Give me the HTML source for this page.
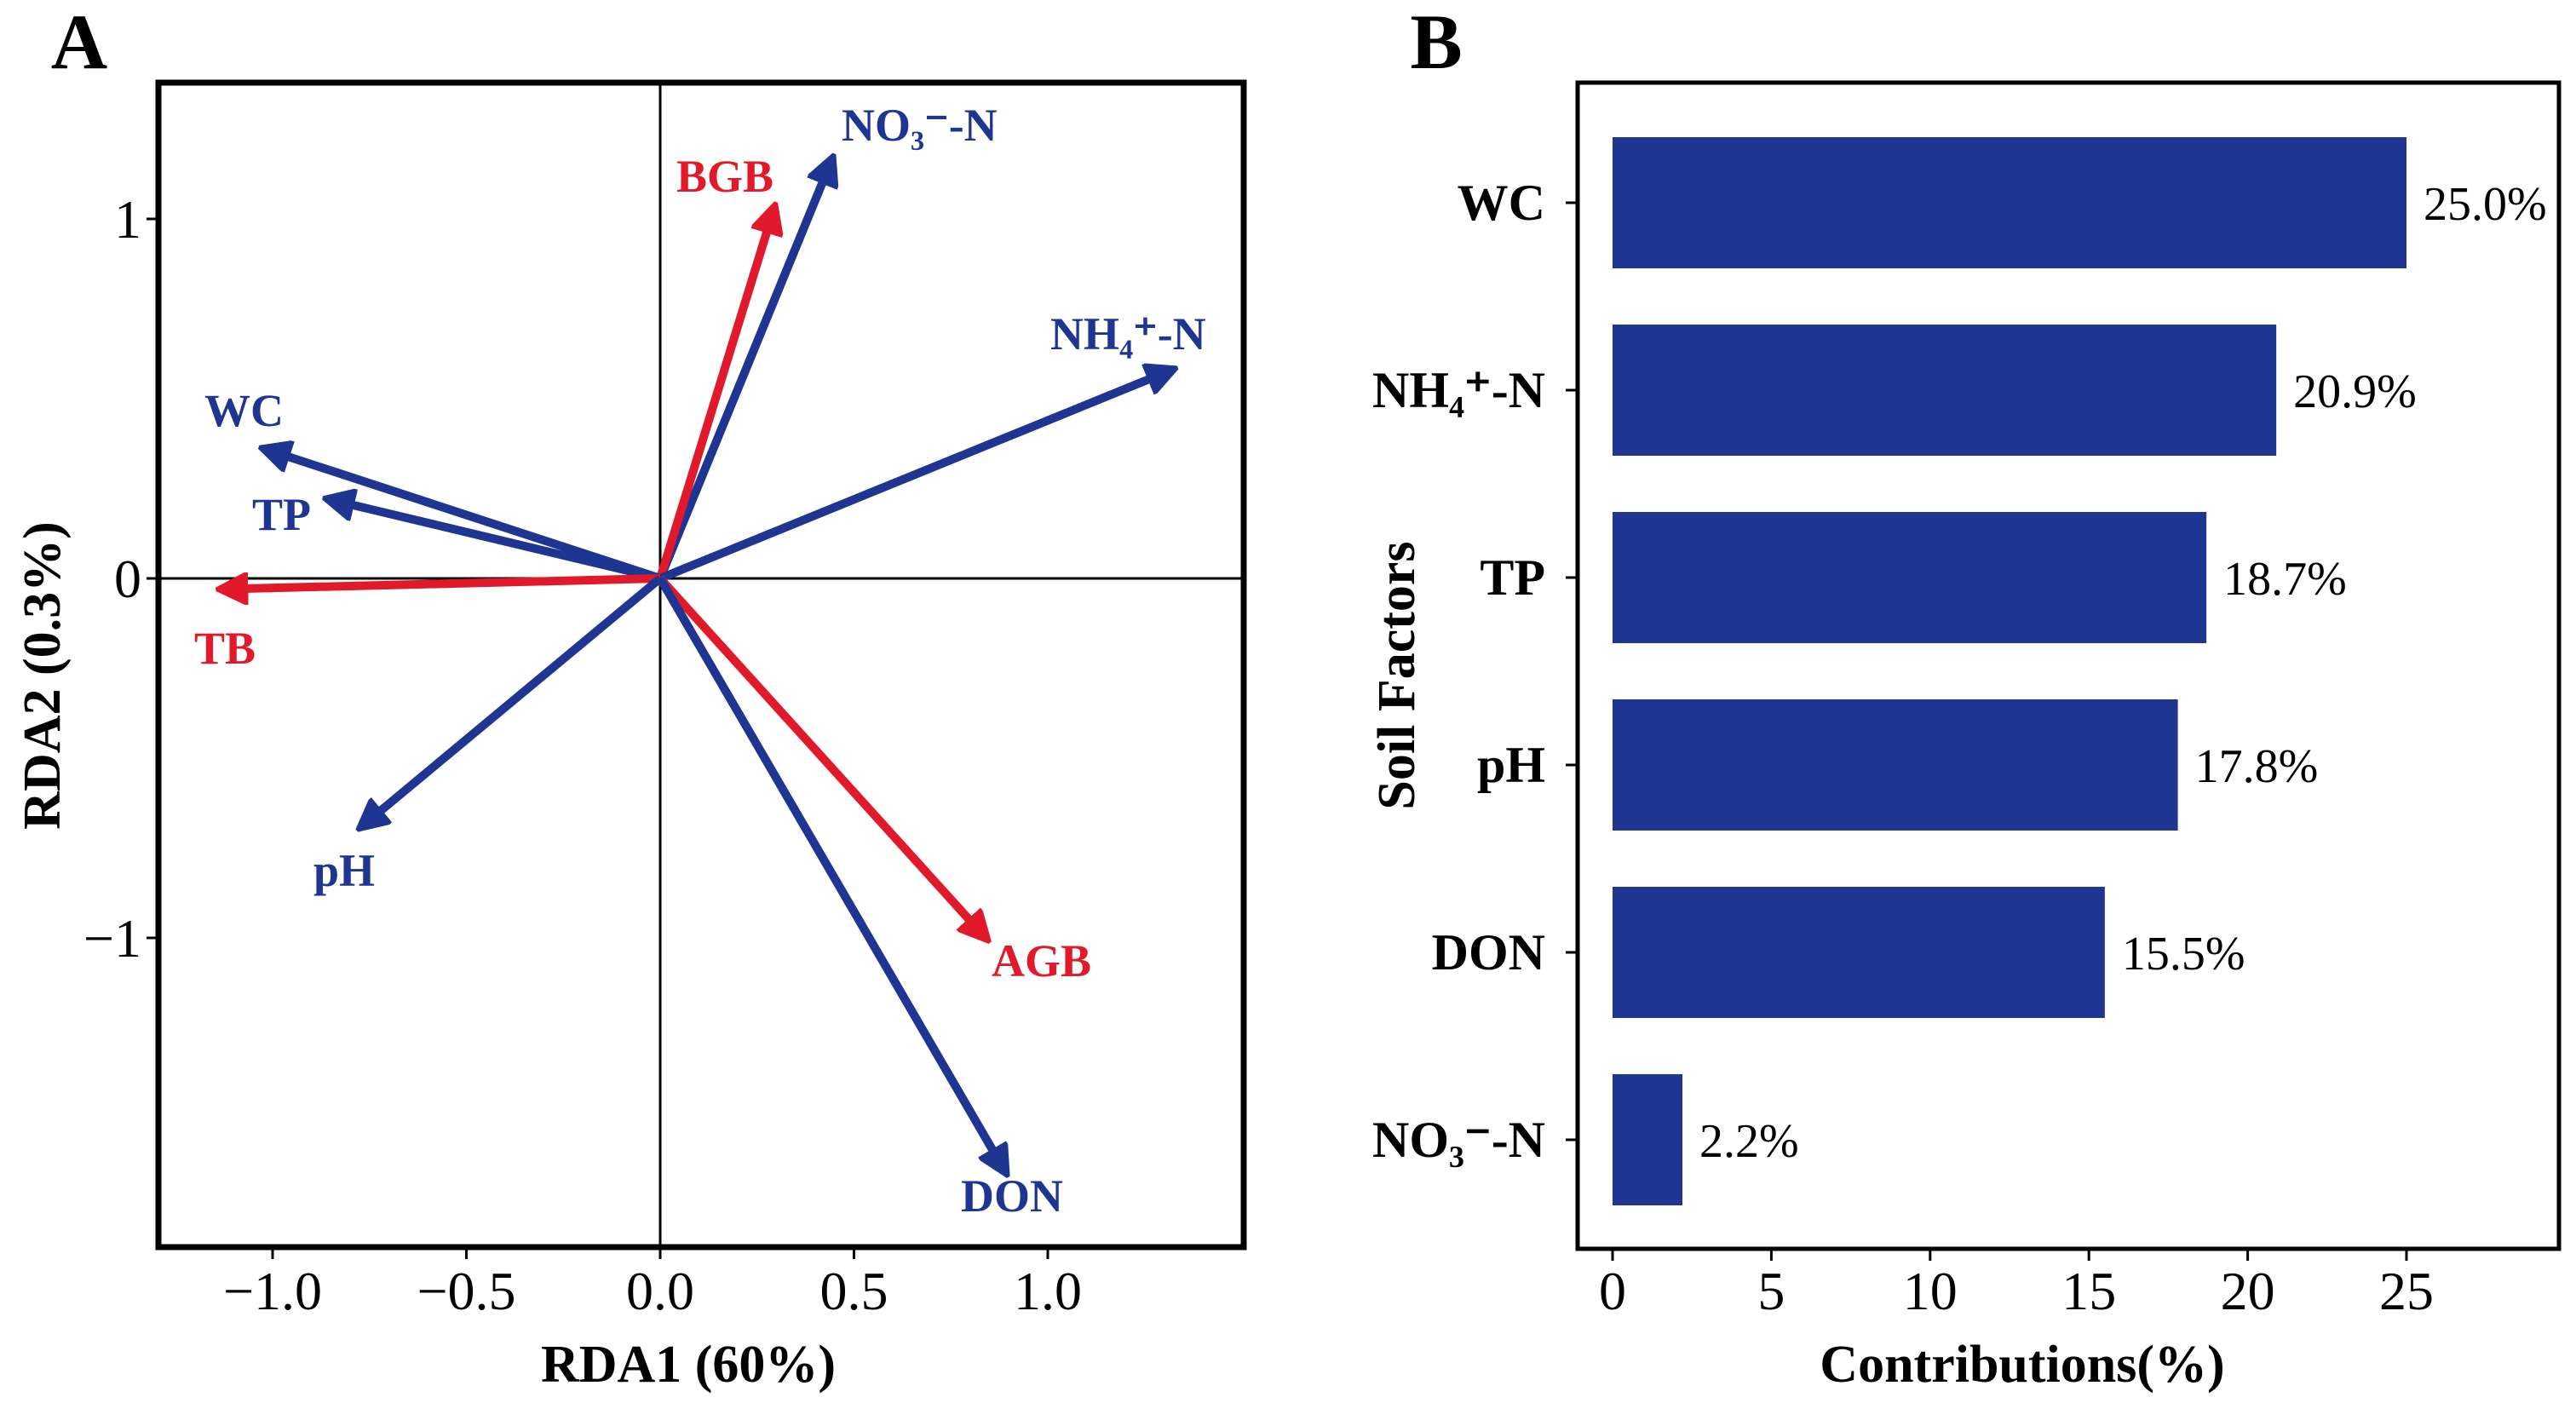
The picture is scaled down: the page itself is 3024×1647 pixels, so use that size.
<!DOCTYPE html>
<html><head><meta charset="utf-8"><style>
html,body{margin:0;padding:0;background:#fff;}
svg{display:block;font-family:"Liberation Serif",serif;}
</style></head><body>
<svg id="fig" width="3024" height="1647" viewBox="0 0 3024 1647" xmlns="http://www.w3.org/2000/svg">
<defs>
<marker id="hb" viewBox="0 0 10 10" refX="8" refY="5" markerWidth="3.8" markerHeight="3.8" orient="auto" markerUnits="strokeWidth"><path d="M0,0 L10,5 L0,10 z" fill="#1f3592" stroke="#1f3592" stroke-linejoin="round"/></marker>
<marker id="hr" viewBox="0 0 10 10" refX="8" refY="5" markerWidth="3.8" markerHeight="3.8" orient="auto" markerUnits="strokeWidth"><path d="M0,0 L10,5 L0,10 z" fill="#e0192b" stroke="#e0192b" stroke-linejoin="round"/></marker>
</defs>
<g id="panelA"></g>
<g id="panelB"></g>
</svg>
<script>
// ---- Panel A data ----
const rdaNames = ["NO₃⁻-N","BGB","NH₄⁺-N","WC","TP","TB","pH","AGB","DON"];
const rdaX = [0.443, 0.294, 1.32, -1.02, -0.855, -1.13, -0.77, 0.84, 0.89];
const rdaY = [1.165, 1.03, 0.58, 0.36, 0.22, -0.03, -0.69, -1.00, -1.65];
const rdaType = ["soil","plant","soil","soil","soil","plant","soil","plant","soil"];
const rdaXTicks = [-1.0,-0.5,0.0,0.5,1.0];
const rdaXTickLabels = ["\u22121.0","\u22120.5","0.0","0.5","1.0"];
const rdaYTicks = [1,0,-1];
const rdaYTickLabels = ["1","0","\u22121"];
// ---- Panel B data ----
const factors = ["WC","NH₄⁺-N","TP","pH","DON","NO₃⁻-N"];
const contrib = [25.0,20.9,18.7,17.8,15.5,2.2];
const contribLabels = ["25.0%","20.9%","18.7%","17.8%","15.5%","2.2%"];
const contribTicks = [0,5,10,15,20,25];

const NS="http://www.w3.org/2000/svg";
function mk(parent, tag, attrs, text){
  const e=document.createElementNS(NS,tag);
  for(const k in attrs) e.setAttribute(k,attrs[k]);
  if(text!==undefined) e.textContent=text;
  parent.appendChild(e); return e;
}
const BLUE="#1f3592", RED="#e0192b";

// ---- Panel A ----
const A=document.getElementById('panelA');
const ax=v=>775+v*455, ay=v=>679-v*422;
const bx0=186,by0=97,bx1=1460,by1=1464;
let t=mk(A,'text',{x:93,y:80,'font-size':92,'font-weight':'bold','text-anchor':'middle'},'A');


let l=mk(A,'line',{x1:ax(0),y1:by0,x2:ax(0),y2:by1,stroke:'#000','stroke-width':3});


l=mk(A,'line',{x1:bx0,y1:ay(0),x2:bx1,y2:ay(0),stroke:'#000','stroke-width':3});


const labelPos={ "NO₃⁻-N":[988,165,'start'], "BGB":[794,225,'start'], "NH₄⁺-N":[1233,410,'start'], "WC":[240,500,'start'],
 "TP":[296,622,'start'], "TB":[228,779,'start'], "pH":[368,1040,'start'], "AGB":[1164,1146,'start'], "DON":[1128,1422,'start']};
rdaNames.forEach((n,i)=>{
  const c=rdaType[i]==='soil'?BLUE:RED;
  const ln=mk(A,'line',{x1:ax(0),y1:ay(0),x2:ax(rdaX[i]),y2:ay(rdaY[i]),stroke:c,'stroke-width':10,'marker-end':rdaType[i]==='soil'?'url(#hb)':'url(#hr)'});
  
  
  const p=labelPos[n]||[ax(rdaX[i]),ay(rdaY[i]),'start'];
  const tx=mk(A,'text',{x:p[0],y:p[1],fill:c,'font-size':54,'font-weight':'bold','text-anchor':p[2]},n);
  
  
});
let r=mk(A,'rect',{x:bx0,y:by0,width:bx1-bx0,height:by1-by0,fill:'none',stroke:'#000','stroke-width':7});


rdaXTicks.forEach((v,i)=>{
  const tk=mk(A,'line',{x1:ax(v),y1:by1,x2:ax(v),y2:by1+14,stroke:'#000','stroke-width':3});
  
  
  const tl=mk(A,'text',{x:ax(v),y:1537,'font-size':64,'text-anchor':'middle'},rdaXTickLabels[i]);
  
  
});
rdaYTicks.forEach((v,i)=>{
  const tk=mk(A,'line',{x1:bx0-14,y1:ay(v),x2:bx0,y2:ay(v),stroke:'#000','stroke-width':3});
  
  
  const tl=mk(A,'text',{x:166,y:ay(v)+22,'font-size':64,'text-anchor':'end'},rdaYTickLabels[i]);
  
  
});
t=mk(A,'text',{x:808,y:1622,'font-size':62,'font-weight':'bold','text-anchor':'middle'},'RDA1 (60%)');


t=mk(A,'text',{x:0,y:0,'font-size':62,'font-weight':'bold','text-anchor':'middle',transform:'translate(70,793) rotate(-90)'},'RDA2 (0.3%)');



// ---- Panel B ----
const B=document.getElementById('panelB');
const cx0=1852,cy0=97,cx1=3004,cy1=1466;
const bxs=v=>1893+v*37.28;
const rowY=i=>238+i*220;
t=mk(B,'text',{x:1686,y:80,'font-size':92,'font-weight':'bold','text-anchor':'middle'},'B');


factors.forEach((f,i)=>{
  const b=mk(B,'rect',{x:bxs(0),y:rowY(i)-77,width:bxs(contrib[i])-bxs(0),height:154,fill:BLUE});
  
  
  const vl=mk(B,'text',{x:bxs(contrib[i])+20,y:rowY(i)+20,'font-size':56,'text-anchor':'start'},contribLabels[i]);
  
  
  const tk=mk(B,'line',{x1:cx0-14,y1:rowY(i),x2:cx0,y2:rowY(i),stroke:'#000','stroke-width':3});
  
  
  const cl=mk(B,'text',{x:1814,y:rowY(i)+20,'font-size':60,'font-weight':'bold','text-anchor':'end'},f);
  
  
});
r=mk(B,'rect',{x:cx0,y:cy0,width:cx1-cx0,height:cy1-cy0,fill:'none',stroke:'#000','stroke-width':5});


contribTicks.forEach(v=>{
  const tk=mk(B,'line',{x1:bxs(v),y1:cy1,x2:bxs(v),y2:cy1+14,stroke:'#000','stroke-width':3});
  
  
  const tl=mk(B,'text',{x:bxs(v),y:1537,'font-size':64,'text-anchor':'middle'},String(v));
  
  
});
t=mk(B,'text',{x:2374,y:1622,'font-size':62,'font-weight':'bold','text-anchor':'middle'},'Contributions(%)');


t=mk(B,'text',{x:0,y:0,'font-size':62,'font-weight':'bold','text-anchor':'middle',transform:'translate(1660,793) rotate(-90)'},'Soil Factors');


</script>
</body></html>
